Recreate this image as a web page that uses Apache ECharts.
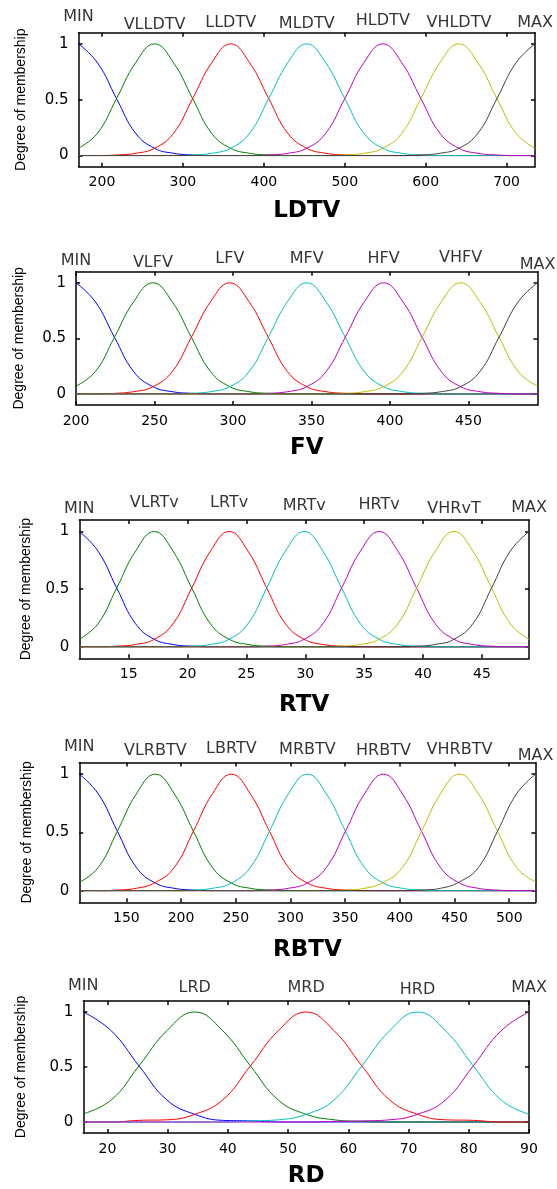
<!DOCTYPE html>
<html>
<head>
<meta charset="utf-8">
<script src="https://cdn.jsdelivr.net/npm/echarts@6/dist/echarts.min.js"></script>
<style>
  html, body { margin: 0; padding: 0; background: #fff; }
  #chart { width: 557px; height: 1189px; }
</style>
</head>
<body>
<div id="chart"></div>
<script>

// LDTV
var ldtvX = [171, 194.5, 218, 241.5, 265, 288.5, 312, 335.5, 359, 382.5, 406, 429.5, 453, 476.5, 500, 523.5, 547, 570.5, 594, 617.5, 641, 664.5, 688, 711.5, 735];
var ldtvNames = ['MIN', 'VLLDTV', 'LLDTV', 'MLDTV', 'HLDTV', 'VHLDTV', 'MAX'];
var ldtvTicks = [200, 300, 400, 500, 600, 700];
var ldtvMin    = [1, 0.83, 0.51, 0.2, 0.065, 0.02, 0.005, 0, 0, 0, 0, 0, 0, 0, 0, 0, 0, 0, 0, 0, 0, 0, 0, 0, 0];
var ldtvVl     = [0.065, 0.2, 0.51, 0.83, 1, 0.83, 0.51, 0.2, 0.065, 0.02, 0.005, 0, 0, 0, 0, 0, 0, 0, 0, 0, 0, 0, 0, 0, 0];
var ldtvL      = [0, 0, 0.005, 0.02, 0.065, 0.2, 0.51, 0.83, 1, 0.83, 0.51, 0.2, 0.065, 0.02, 0.005, 0, 0, 0, 0, 0, 0, 0, 0, 0, 0];
var ldtvM      = [0, 0, 0, 0, 0, 0, 0.005, 0.02, 0.065, 0.2, 0.51, 0.83, 1, 0.83, 0.51, 0.2, 0.065, 0.02, 0.005, 0, 0, 0, 0, 0, 0];
var ldtvH      = [0, 0, 0, 0, 0, 0, 0, 0, 0, 0, 0.005, 0.02, 0.065, 0.2, 0.51, 0.83, 1, 0.83, 0.51, 0.2, 0.065, 0.02, 0.005, 0, 0];
var ldtvVh     = [0, 0, 0, 0, 0, 0, 0, 0, 0, 0, 0, 0, 0, 0, 0.005, 0.02, 0.065, 0.2, 0.51, 0.83, 1, 0.83, 0.51, 0.2, 0.065];
var ldtvMax    = [0, 0, 0, 0, 0, 0, 0, 0, 0, 0, 0, 0, 0, 0, 0, 0, 0, 0, 0.005, 0.02, 0.065, 0.2, 0.51, 0.83, 1];

// FV
var fvX = [200, 212.25, 224.5, 236.75, 249, 261.25, 273.5, 285.75, 298, 310.25, 322.5, 334.75, 347, 359.25, 371.5, 383.75, 396, 408.25, 420.5, 432.75, 445, 457.25, 469.5, 481.75, 494];
var fvNames = ['MIN', 'VLFV', 'LFV', 'MFV', 'HFV', 'VHFV', 'MAX'];
var fvTicks = [200, 250, 300, 350, 400, 450];
var fvMin  = [1, 0.83, 0.51, 0.2, 0.065, 0.02, 0.005, 0, 0, 0, 0, 0, 0, 0, 0, 0, 0, 0, 0, 0, 0, 0, 0, 0, 0];
var fvVl   = [0.07, 0.2, 0.51, 0.83, 1, 0.83, 0.51, 0.2, 0.065, 0.02, 0.005, 0, 0, 0, 0, 0, 0, 0, 0, 0, 0, 0, 0, 0, 0];
var fvL    = [0, 0, 0.005, 0.02, 0.065, 0.2, 0.51, 0.83, 1, 0.83, 0.51, 0.2, 0.065, 0.02, 0.005, 0, 0, 0, 0, 0, 0, 0, 0, 0, 0];
var fvM    = [0, 0, 0, 0, 0, 0, 0.005, 0.02, 0.065, 0.2, 0.51, 0.83, 1, 0.83, 0.51, 0.2, 0.065, 0.02, 0.005, 0, 0, 0, 0, 0, 0];
var fvH    = [0, 0, 0, 0, 0, 0, 0, 0, 0, 0, 0.005, 0.02, 0.065, 0.2, 0.51, 0.83, 1, 0.83, 0.51, 0.2, 0.065, 0.02, 0.005, 0, 0];
var fvVh   = [0, 0, 0, 0, 0, 0, 0, 0, 0, 0, 0, 0, 0, 0, 0.005, 0.02, 0.065, 0.2, 0.51, 0.83, 1, 0.83, 0.51, 0.2, 0.07];
var fvMax  = [0, 0, 0, 0, 0, 0, 0, 0, 0, 0, 0, 0, 0, 0, 0, 0, 0, 0, 0.005, 0.02, 0.065, 0.2, 0.51, 0.83, 1];

// RTV
var rtvX = [10.8, 12.39, 13.98, 15.58, 17.17, 18.76, 20.35, 21.94, 23.53, 25.13, 26.72, 28.31, 29.9, 31.49, 33.08, 34.68, 36.27, 37.86, 39.45, 41.04, 42.63, 44.23, 45.82, 47.41, 49];
var rtvNames = ['MIN', 'VLRTv', 'LRTv', 'MRTv', 'HRTv', 'VHRvT', 'MAX'];
var rtvTicks = [15, 20, 25, 30, 35, 40, 45];
var rtvMin = [1, 0.83, 0.51, 0.2, 0.065, 0.02, 0.005, 0, 0, 0, 0, 0, 0, 0, 0, 0, 0, 0, 0, 0, 0, 0, 0, 0, 0];
var rtvVl  = [0.065, 0.2, 0.51, 0.83, 1, 0.83, 0.51, 0.2, 0.065, 0.02, 0.005, 0, 0, 0, 0, 0, 0, 0, 0, 0, 0, 0, 0, 0, 0];
var rtvL   = [0, 0, 0.005, 0.02, 0.065, 0.2, 0.51, 0.83, 1, 0.83, 0.51, 0.2, 0.065, 0.02, 0.005, 0, 0, 0, 0, 0, 0, 0, 0, 0, 0];
var rtvM   = [0, 0, 0, 0, 0, 0, 0.005, 0.02, 0.065, 0.2, 0.51, 0.83, 1, 0.83, 0.51, 0.2, 0.065, 0.02, 0.005, 0, 0, 0, 0, 0, 0];
var rtvH   = [0, 0, 0, 0, 0, 0, 0, 0, 0, 0, 0.005, 0.02, 0.065, 0.2, 0.51, 0.83, 1, 0.83, 0.51, 0.2, 0.065, 0.02, 0.005, 0, 0];
var rtvVh  = [0, 0, 0, 0, 0, 0, 0, 0, 0, 0, 0, 0, 0, 0, 0.005, 0.02, 0.065, 0.2, 0.51, 0.83, 1, 0.83, 0.51, 0.2, 0.065];
var rtvMax = [0, 0, 0, 0, 0, 0, 0, 0, 0, 0, 0, 0, 0, 0, 0, 0, 0, 0, 0.005, 0.02, 0.065, 0.2, 0.51, 0.83, 1];

// RBTV
var rbtvX = [107, 124.4, 141.8, 159.1, 176.5, 193.9, 211.3, 228.6, 246, 263.4, 280.8, 298.1, 315.5, 332.9, 350.3, 367.6, 385, 402.4, 419.8, 437.1, 454.5, 471.9, 489.3, 506.6, 524];
var rbtvNames = ['MIN', 'VLRBTV', 'LBRTV', 'MRBTV', 'HRBTV', 'VHRBTV', 'MAX'];
var rbtvTicks = [150, 200, 250, 300, 350, 400, 450, 500];
var rbtvMin = [1, 0.83, 0.51, 0.2, 0.065, 0.02, 0.005, 0, 0, 0, 0, 0, 0, 0, 0, 0, 0, 0, 0, 0, 0, 0, 0, 0, 0];
var rbtvVl  = [0.07, 0.2, 0.51, 0.83, 1, 0.83, 0.51, 0.2, 0.065, 0.02, 0.005, 0, 0, 0, 0, 0, 0, 0, 0, 0, 0, 0, 0, 0, 0];
var rbtvL   = [0, 0, 0.005, 0.02, 0.07, 0.2, 0.51, 0.83, 1, 0.83, 0.51, 0.2, 0.065, 0.02, 0.005, 0, 0, 0, 0, 0, 0, 0, 0, 0, 0];
var rbtvM   = [0, 0, 0, 0, 0, 0, 0.005, 0.02, 0.065, 0.2, 0.51, 0.83, 1, 0.83, 0.51, 0.2, 0.065, 0.02, 0.005, 0, 0, 0, 0, 0, 0];
var rbtvH   = [0, 0, 0, 0, 0, 0, 0, 0, 0, 0, 0.005, 0.02, 0.065, 0.2, 0.51, 0.83, 1, 0.83, 0.51, 0.2, 0.065, 0.02, 0.005, 0, 0];
var rbtvVh  = [0, 0, 0, 0, 0, 0, 0, 0, 0, 0, 0, 0, 0, 0, 0.005, 0.02, 0.07, 0.2, 0.51, 0.83, 1, 0.83, 0.51, 0.2, 0.075];
var rbtvMax = [0, 0, 0, 0, 0, 0, 0, 0, 0, 0, 0, 0, 0, 0, 0, 0, 0, 0, 0.005, 0.02, 0.075, 0.2, 0.51, 0.83, 1];

// RD
var rdX = [16, 20.63, 25.25, 29.88, 34.5, 39.13, 43.75, 48.38, 53, 57.63, 62.25, 66.88, 71.5, 76.13, 80.75, 85.38, 90];
var rdNames = ['MIN', 'LRD', 'MRD', 'HRD', 'MAX'];
var rdTicks = [20, 30, 40, 50, 60, 70, 80, 90];
var rdMin = [1, 0.83, 0.51, 0.2, 0.07, 0.015, 0.01, 0, 0, 0, 0, 0, 0, 0, 0, 0, 0];
var rdL   = [0.075, 0.2, 0.51, 0.83, 1, 0.83, 0.51, 0.2, 0.07, 0.02, 0.005, 0, 0, 0, 0, 0, 0];
var rdM   = [0, 0, 0.015, 0.02, 0.07, 0.2, 0.51, 0.83, 1, 0.83, 0.51, 0.2, 0.07, 0.02, 0.015, 0, 0];
var rdH   = [0, 0, 0, 0, 0, 0, 0.01, 0.02, 0.07, 0.2, 0.51, 0.83, 1, 0.83, 0.51, 0.2, 0.07];
var rdMax = [0, 0, 0, 0, 0, 0, 0, 0, 0, 0.005, 0.01, 0.02, 0.07, 0.2, 0.51, 0.83, 1];

// matlab plotmf colours
var mfColors = ['#0000ff', '#008000', '#ff0000', '#00bfbf', '#bf00bf', '#bfbf00', '#404040'];

var panels = [
  { title: 'LDTV', x: ldtvX, ys: [ldtvMin, ldtvVl, ldtvL, ldtvM, ldtvH, ldtvVh, ldtvMax], names: ldtvNames, ticks: ldtvTicks,
    grid: { left: 78.5, top: 32.7, width: 456.5, height: 134 }, lift: [15.7, 8, 10, 8.5, 12, 9.5, 10], yNameX: 21, titleGap: 33 },
  { title: 'FV', x: fvX, ys: [fvMin, fvVl, fvL, fvM, fvH, fvVh, fvMax], names: fvNames, ticks: fvTicks,
    grid: { left: 76, top: 271.7, width: 461.5, height: 133.3 }, lift: [11, 9, 13, 13, 13, 13.7, 7], yNameX: 19.5, titleGap: 31.5 },
  { title: 'RTV', x: rtvX, ys: [rtvMin, rtvVl, rtvL, rtvM, rtvH, rtvVh, rtvMax], names: rtvNames, ticks: rtvTicks,
    grid: { left: 79.3, top: 520, width: 449.7, height: 138.3 }, lift: [10.8, 17.5, 17, 14.5, 15.5, 11.2, 11.7], yNameX: 26.5, titleGap: 35 },
  { title: 'RBTV', x: rbtvX, ys: [rbtvMin, rbtvVl, rbtvL, rbtvM, rbtvH, rbtvVh, rbtvMax], names: rbtvNames, ticks: rbtvTicks,
    grid: { left: 79.3, top: 762.5, width: 456.2, height: 139.8 }, lift: [15.8, 11.7, 13.3, 12.3, 12, 12.8, 6.7], yNameX: 28.5, titleGap: 36 },
  { title: 'RD', x: rdX, ys: [rdMin, rdL, rdM, rdH, rdMax], names: rdNames, ticks: rdTicks,
    grid: { left: 83.3, top: 1001, width: 445.7, height: 135 }, lift: [15.2, 13.2, 13.2, 11, 13.2], yNameX: 21, titleGap: 32 }
];

var chart = echarts.init(document.getElementById('chart'), null, { renderer: 'canvas' });

var axisLineStyle = { color: '#000', width: 1.5 };
var tickStyle = { color: '#000', width: 1.5 };
var labelFont = 'DejaVu Sans';

var grids = [], xAxes = [], yAxes = [], series = [];

panels.forEach(function (p, pi) {
  grids.push(Object.assign({ containLabel: false }, p.grid));
  var xmin = p.x[0], xmax = p.x[p.x.length - 1];

  // bottom axis with ticks + title
  xAxes.push({
    gridIndex: pi, type: 'value', position: 'bottom', min: xmin, max: xmax,
    axisLine: { show: true, onZero: false, lineStyle: axisLineStyle },
    axisTick: { show: true, inside: true, length: 4, customValues: p.ticks, lineStyle: tickStyle },
    axisLabel: { show: true, customValues: p.ticks, color: '#000', fontSize: 14, fontFamily: labelFont, margin: 9 },
    splitLine: { show: false },
    name: p.title, nameLocation: 'middle', nameGap: p.titleGap,
    nameTextStyle: { color: '#000', fontSize: 23, fontWeight: 'bold', fontFamily: labelFont }
  });
  // top box edge
  xAxes.push({
    gridIndex: pi, type: 'value', position: 'top', min: xmin, max: xmax,
    axisLine: { show: true, onZero: false, lineStyle: axisLineStyle },
    axisTick: { show: true, inside: true, length: 4, customValues: p.ticks, lineStyle: tickStyle },
    axisLabel: { show: false },
    splitLine: { show: false }
  });
  // left axis
  yAxes.push({
    gridIndex: pi, type: 'value', position: 'left', min: -0.1, max: 1.1,
    axisLine: { show: true, onZero: false, lineStyle: axisLineStyle },
    axisTick: { show: true, inside: true, length: 4, customValues: [0, 0.5, 1], lineStyle: tickStyle },
    axisLabel: { show: true, customValues: [0, 0.5, 1], color: '#000', fontSize: 15, fontFamily: labelFont, margin: 10 },
    splitLine: { show: false },
    name: 'Degree of membership', nameLocation: 'middle', nameGap: p.grid.left - p.yNameX - 7,
    nameTextStyle: { color: '#000', fontSize: 14, fontFamily: 'Liberation Sans' }
  });
  // right box edge
  yAxes.push({
    gridIndex: pi, type: 'value', position: 'right', min: -0.1, max: 1.1,
    axisLine: { show: true, onZero: false, lineStyle: axisLineStyle },
    axisTick: { show: true, inside: true, length: 4, customValues: [0, 0.5, 1], lineStyle: tickStyle },
    axisLabel: { show: false },
    splitLine: { show: false }
  });

  // membership curves
  p.ys.forEach(function (yv, si) {
    series.push({
      type: 'line',
      xAxisIndex: pi * 2, yAxisIndex: pi * 2,
      data: p.x.map(function (xv, j) { return [xv, yv[j]]; }),
      showSymbol: false, smooth: 0.45,
      lineStyle: { width: 1, color: mfColors[si] },
      itemStyle: { color: mfColors[si] },
      silent: true, animation: false, z: 2 + si
    });
  });

  // MF names above each peak
  series.push({
    type: 'scatter',
    xAxisIndex: pi * 2, yAxisIndex: pi * 2,
    symbolSize: 0, silent: true, animation: false, z: 20,
    data: p.names.map(function (nm, i) {
      return {
        value: [p.x[i * 4], 1.1], name: nm,
        label: { offset: [0, 8 - p.lift[i]] }
      };
    }),
    label: {
      show: true, position: 'top', distance: 0,
      formatter: function (d) { return d.name; },
      color: '#000', fontSize: 16, fontFamily: labelFont
    }
  });
});

chart.setOption({
  backgroundColor: '#fff',
  animation: false,
  grid: grids,
  xAxis: xAxes,
  yAxis: yAxes,
  series: series
});
</script>
</body>
</html>
